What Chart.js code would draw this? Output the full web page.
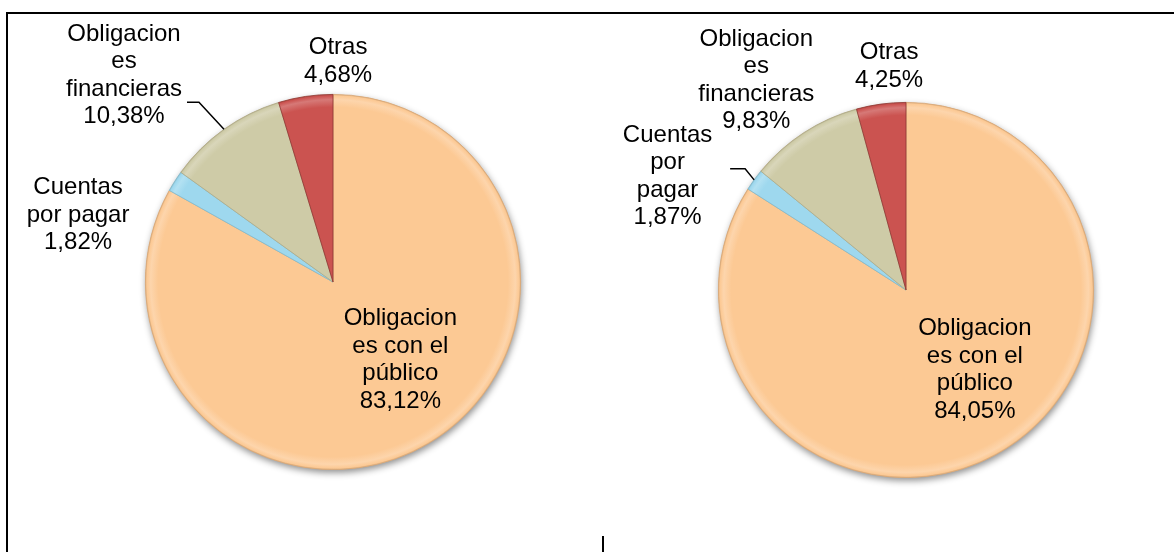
<!DOCTYPE html>
<html>
<head>
<meta charset="utf-8">
<script src="https://cdn.jsdelivr.net/npm/chart.js@4/dist/chart.umd.min.js"></script>
<style>
  body { margin: 0; background: #fff; width: 1174px; height: 552px; overflow: hidden; position: relative; }
  .frame { position: absolute; left: 6px; top: 12px; width: 1180px; height: 560px;
           border-top: 2px solid #000; border-left: 2px solid #000; }
  .tick { position: absolute; left: 602px; top: 536px; width: 2px; height: 16px; background: #000; }
  .half { position: absolute; top: 0; }
</style>
</head>
<body>
<div class="frame"></div>
<div class="tick"></div>
<div class="half" style="left:0"><canvas id="pieLeft" width="587" height="552"></canvas></div>
<div class="half" style="left:587px"><canvas id="pieRight" width="587" height="552"></canvas></div>

<script>
// ── DATA ──
const categories  = ['Obligaciones con el público', 'Cuentas por pagar', 'Obligaciones financieras', 'Otras'];
const valuesLeft  = [83.12, 1.82, 10.38, 4.68];
const valuesRight = [84.05, 1.87, 9.83, 4.25];

const sliceColors = ['#FCC994', '#9ED8EE', '#CECBA7', '#CB5350'];
const edgeColors  = ['#D9A877', '#7DBBD2', '#AEAB88', '#8E3634'];

// label placement, in units of the pie radius from the centre
const placeLeft = {
  label:  [[0.359, 0.415], [-1.359, -0.356], [-1.114, -1.101], [0.027, -1.176]],
  width:  [120, 120, 120, 120],
  leader: [null, null, [-25, -27, 12], null]
};
const placeRight = {
  label:  [[0.367, 0.426], [-1.271, -0.606], [-0.798, -1.117], [-0.090, -1.191]],
  width:  [120, 95, 120, 120],
  leader: [null, [-9, -11, 15], null, null]
};

const FONT = '24px "Liberation Sans", Arial, sans-serif';
const LINE_H = 27.5;

function pct(v) {
  return v.toFixed(2).replace('.', ',') + '%';
}

function mix(hex, target, k) {
  const n = parseInt(hex.slice(1), 16);
  const r = n >> 16, g = (n >> 8) & 255, b = n & 255;
  const f = c => Math.round(c + (target - c) * k);
  return `rgb(${f(r)},${f(g)},${f(b)})`;
}

// Excel-style wrap: words first, then break a word that is still too long
function wrap(ctx, text, maxW) {
  const lines = [];
  let line = '';
  text.split(' ').forEach(word => {
    const test = line ? line + ' ' + word : word;
    if (ctx.measureText(test).width <= maxW) { line = test; return; }
    if (line) lines.push(line);
    line = '';
    let rest = word;
    while (ctx.measureText(rest).width > maxW) {
      let i = rest.length;
      while (i > 1 && ctx.measureText(rest.slice(0, i)).width > maxW) i--;
      lines.push(rest.slice(0, i));
      rest = rest.slice(i);
    }
    line = rest;
  });
  if (line) lines.push(line);
  return lines;
}

// soft shadow under the whole pie
const pieShadow = {
  id: 'pieShadow',
  beforeDatasetsDraw(chart) {
    const arc = chart.getDatasetMeta(0).data[0];
    if (!arc) return;
    const ctx = chart.ctx;
    ctx.save();
    ctx.shadowColor = 'rgba(0,0,0,0.45)';
    ctx.shadowBlur = 7;
    ctx.shadowOffsetX = 1;
    ctx.shadowOffsetY = 3;
    ctx.fillStyle = '#E8B37F';
    ctx.beginPath();
    ctx.arc(arc.x, arc.y, arc.outerRadius, 0, Math.PI * 2);
    ctx.fill();
    ctx.restore();
  }
};

// data labels + leader lines
const pieLabels = {
  id: 'pieLabels',
  afterDatasetsDraw(chart, args, opts) {
    const ctx = chart.ctx;
    const meta = chart.getDatasetMeta(0);
    const values = chart.data.datasets[0].data;
    ctx.save();
    ctx.font = FONT;
    ctx.fillStyle = '#000';
    ctx.textAlign = 'center';
    ctx.textBaseline = 'middle';
    meta.data.forEach((arc, i) => {
      const r = arc.outerRadius;
      const [fx, fy] = opts.place.label[i];
      const cx = arc.x + fx * r, cy = arc.y + fy * r;
      const lines = wrap(ctx, chart.data.labels[i], opts.place.width[i]);
      lines.push(pct(values[i]));
      lines.forEach((t, k) => {
        ctx.fillText(t, cx, cy + (k - (lines.length - 1) / 2) * LINE_H);
      });

      const ld = opts.place.leader[i];
      if (ld) {
        const mid = (arc.startAngle + arc.endAngle) / 2;
        const ex = arc.x + Math.cos(mid) * r, ey = arc.y + Math.sin(mid) * r;
        ctx.strokeStyle = '#000';
        ctx.lineWidth = 1.5;
        ctx.beginPath();
        ctx.moveTo(ex, ey);
        ctx.lineTo(ex + ld[0], ey + ld[1]);
        ctx.lineTo(ex + ld[0] - ld[2], ey + ld[1]);
        ctx.stroke();
      }
    });
    ctx.restore();
  }
};

// radial gradient per slice: flat body, soft light rim band, darker outer edge
function bevelFill(c) {
  const base = sliceColors[c.dataIndex];
  const a = c.chart.chartArea;
  if (!a) return base;
  const x = (a.left + a.right) / 2, y = (a.top + a.bottom) / 2;
  const r = Math.min(a.width, a.height) / 2;
  const g = c.chart.ctx.createRadialGradient(x, y, 0, x, y, r);
  g.addColorStop(0, base);
  g.addColorStop(0.93, base);
  g.addColorStop(0.97, mix(base, 255, 0.22));
  g.addColorStop(0.99, base);
  g.addColorStop(1, mix(base, 0, 0.15));
  return g;
}

function createPie(canvasId, values, place, pad) {
  const ctx = document.getElementById(canvasId);
  return new Chart(ctx, {
    type: 'pie',
    data: {
      labels: categories,
      datasets: [{
        data: values,
        backgroundColor: bevelFill,
        borderColor: edgeColors,
        borderWidth: 0.8
      }]
    },
    options: {
      responsive: false,
      animation: false,
      layout: { padding: pad },
      plugins: {
        legend: { display: false },
        tooltip: { enabled: false },
        pieLabels: { place }
      }
    },
    plugins: [pieShadow, pieLabels]
  });
}

createPie('pieLeft',  valuesLeft,  placeLeft,  { left: 145, right: 66, top: 94, bottom: 82 });
createPie('pieRight', valuesRight, placeRight, { left: 131, right: 80, top: 102, bottom: 74 });
</script>
</body>
</html>
